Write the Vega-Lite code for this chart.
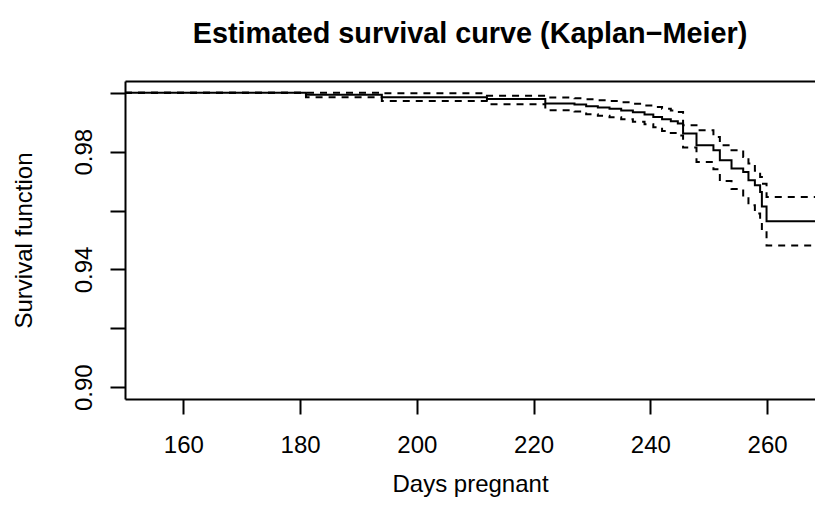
{
  "$schema": "https://vega.github.io/schema/vega-lite/v6.json",
  "autosize": "none",
  "padding": {"left": 125, "top": 81, "right": 0, "bottom": 119},
  "width": 690,
  "height": 318,
  "background": "white",
  "title": {
    "text": "Estimated survival curve (Kaplan−Meier)",
    "font": "Liberation Sans",
    "fontSize": 28.8,
    "fontWeight": "bold",
    "color": "black",
    "anchor": "middle",
    "frame": "group",
    "baseline": "alphabetic",
    "offset": 9
  },
  "data": {
    "values": [
      {"day": 150, "surv": 1.0, "lower": 1.0, "upper": 1.0},
      {"day": 181, "surv": 0.9993, "lower": 0.9985, "upper": 1.0},
      {"day": 194, "surv": 0.9985, "lower": 0.9972, "upper": 0.9998},
      {"day": 212, "surv": 0.9979, "lower": 0.9961, "upper": 0.999},
      {"day": 222, "surv": 0.9964, "lower": 0.9941, "upper": 0.9984},
      {"day": 227, "surv": 0.996, "lower": 0.9936, "upper": 0.9981},
      {"day": 229, "surv": 0.9954, "lower": 0.9927, "upper": 0.9978},
      {"day": 231, "surv": 0.995, "lower": 0.9922, "upper": 0.9975},
      {"day": 233, "surv": 0.9946, "lower": 0.9917, "upper": 0.9972},
      {"day": 235, "surv": 0.994, "lower": 0.991, "upper": 0.9968},
      {"day": 237, "surv": 0.9934, "lower": 0.9902, "upper": 0.9963},
      {"day": 239, "surv": 0.9926, "lower": 0.9893, "upper": 0.9957},
      {"day": 240.5, "surv": 0.9918, "lower": 0.9883, "upper": 0.9952},
      {"day": 242, "surv": 0.991, "lower": 0.987, "upper": 0.9946},
      {"day": 243.5, "surv": 0.9903, "lower": 0.9863, "upper": 0.994},
      {"day": 244.7, "surv": 0.9896, "lower": 0.9855, "upper": 0.9935},
      {"day": 245.6, "surv": 0.9862, "lower": 0.9814, "upper": 0.989},
      {"day": 247.9, "surv": 0.9822, "lower": 0.9765, "upper": 0.9873},
      {"day": 250.8, "surv": 0.9805, "lower": 0.974, "upper": 0.985},
      {"day": 251.9, "surv": 0.9771, "lower": 0.97, "upper": 0.9822},
      {"day": 253.9, "surv": 0.9743, "lower": 0.9673, "upper": 0.9805},
      {"day": 255.9, "surv": 0.9731, "lower": 0.9645, "upper": 0.9782},
      {"day": 256.8, "surv": 0.9703, "lower": 0.9618, "upper": 0.976},
      {"day": 257.9, "surv": 0.9686, "lower": 0.959, "upper": 0.9735},
      {"day": 258.8, "surv": 0.9663, "lower": 0.956, "upper": 0.9714},
      {"day": 259.1, "surv": 0.9614, "lower": 0.9532, "upper": 0.9691},
      {"day": 259.9, "surv": 0.9564, "lower": 0.9481, "upper": 0.9646},
      {"day": 270, "surv": 0.9564, "lower": 0.9481, "upper": 0.9646}
    ]
  },
  "resolve": {"axis": {"x": "independent", "y": "independent"}},
  "layer": [
    {
      "mark": {"type": "line", "interpolate": "step-after", "color": "black", "strokeWidth": 2, "clip": true},
      "encoding": {
        "x": {
          "field": "day", "type": "quantitative",
          "scale": {"domain": [150, 268.2], "nice": false, "zero": false},
          "axis": {
            "orient": "bottom",
            "title": "Days pregnant",
            "values": [160, 180, 200, 220, 240, 260],
            "domain": true, "domainColor": "black", "domainWidth": 2,
            "ticks": true, "tickColor": "black", "tickWidth": 2, "tickSize": 15,
            "labelFont": "Liberation Sans", "labelFontSize": 24, "labelColor": "black",
            "labelBaseline": "alphabetic", "labelPadding": 38.3, "labelFlush": false, "labelOverlap": false,
            "titleFont": "Liberation Sans", "titleFontSize": 24, "titleFontWeight": "normal", "titleColor": "black",
            "titleBaseline": "alphabetic", "titleY": 92, "titleAlign": "center",
            "grid": false
          }
        },
        "y": {
          "field": "surv", "type": "quantitative",
          "scale": {"domain": [0.896, 1.004], "nice": false, "zero": false},
          "axis": {
            "orient": "left",
            "title": "Survival function",
            "values": [0.9, 0.92, 0.94, 0.96, 0.98, 1.0],
            "labelExpr": "indexof(['0.90', '0.94', '0.98'], format(datum.value, '.2f')) >= 0 ? format(datum.value, '.2f') : ''",
            "domain": true, "domainColor": "black", "domainWidth": 2,
            "ticks": true, "tickColor": "black", "tickWidth": 2, "tickSize": 15,
            "labelFont": "Liberation Sans", "labelFontSize": 24, "labelColor": "black",
            "labelAngle": 270, "labelAlign": "center", "labelBaseline": "alphabetic", "labelPadding": 18.3,
            "labelFlush": false, "labelOverlap": false,
            "titleFont": "Liberation Sans", "titleFontSize": 24, "titleFontWeight": "normal", "titleColor": "black",
            "titleAngle": 270, "titleAlign": "center", "titleBaseline": "alphabetic", "titleX": -94, "titleY": 159,
            "grid": false
          }
        }
      }
    },
    {
      "mark": {"type": "line", "interpolate": "step-after", "color": "black", "strokeWidth": 2, "strokeDash": [7, 6], "clip": true},
      "encoding": {
        "x": {
          "field": "day", "type": "quantitative",
          "axis": {
            "orient": "top", "title": null, "labels": false, "ticks": false, "grid": false,
            "domain": true, "domainColor": "black", "domainWidth": 2
          }
        },
        "y": {"field": "upper", "type": "quantitative", "axis": null}
      }
    },
    {
      "mark": {"type": "line", "interpolate": "step-after", "color": "black", "strokeWidth": 2, "strokeDash": [7, 6], "clip": true},
      "encoding": {
        "x": {"field": "day", "type": "quantitative", "axis": null},
        "y": {"field": "lower", "type": "quantitative", "axis": null}
      }
    }
  ],
  "config": {
    "view": {"stroke": null},
    "axis": {"grid": false}
  }
}
